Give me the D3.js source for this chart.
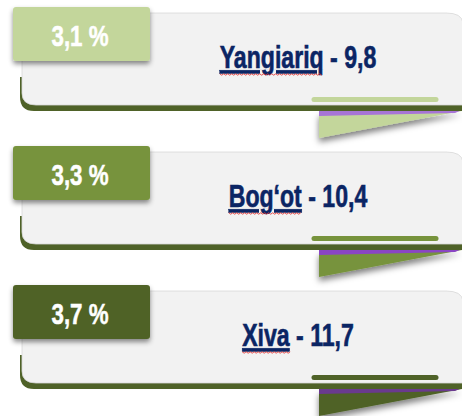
<!DOCTYPE html>
<html>
<head>
<meta charset="utf-8">
<script src="https://cdn.jsdelivr.net/npm/d3@7"></script>
<style>
  body { margin: 0; background: #fff; }
  text { font-family: "Liberation Sans", Arial, sans-serif; font-weight: bold; }
</style>
</head>
<body>
<svg width="462" height="416"></svg>
<script>
// data
var percents = [3.1, 3.3, 3.7];
var places = ["Yangiariq", "Bog‘ot", "Xiva"];
var values = [9.8, 10.4, 11.7];
var tagColors = ["#c3d69b", "#77933c", "#4f6228"];
var foldColors = ["#a774d6", "#8a45c4", "#6a3a8e"];

var svg = d3.select("svg"),
    width = +svg.attr("width"),
    height = +svg.attr("height");

var fmt = function (v) { return d3.format(".1f")(v).replace(".", ","); };

// vertical slot for each panel
var y = d3.scaleBand()
    .domain(d3.range(places.length))
    .range([7, 7 + 139 * 3])
    .paddingInner(0);

// shadows
var defs = svg.append("defs");
var sh = defs.append("filter").attr("id", "shadow")
    .attr("x", "-10%").attr("y", "-10%").attr("width", "130%").attr("height", "160%");
sh.append("feDropShadow").attr("dx", 0).attr("dy", 3).attr("stdDeviation", 2.5)
    .attr("flood-color", "#000").attr("flood-opacity", 0.45);
var sh2 = defs.append("filter").attr("id", "triShadow")
    .attr("x", "-10%").attr("y", "-20%").attr("width", "130%").attr("height", "180%");
sh2.append("feDropShadow").attr("dx", 0).attr("dy", 4).attr("stdDeviation", 3)
    .attr("flood-color", "#000").attr("flood-opacity", 0.5);

var panel = svg.selectAll(".panel")
    .data(places)
    .enter()
    .append("g")
    .attr("class", "panel")
    .attr("transform", function (d, i) { return "translate(0," + y(i) + ")"; });

//fold under the card
panel.append("path")
    .attr("d", "M319,106 L462,104 L319,131 Z")
    .attr("fill", function (d, i) { return tagColors[i]; })
    .attr("filter", "url(#triShadow)");
panel.append("path")
    .attr("d", "M319,103 L462,103 L455,106 L319,109 Z")
    .attr("fill", function (d, i) { return foldColors[i]; });

//card underside
panel.append("path")
    .attr("d", "M20,70 L20,90 Q20,104 34,104 L470,104 L470,70 Z")
    .attr("fill", "#4f6228");

//card body
panel.append("path")
    .attr("d", "M22,6 L446,6 Q462,6 463,16 L463,98 L36,98 Q22,98 22,86 Z")
    .attr("fill", "#f2f2f2")
    .attr("stroke", "#d8d8d8")
    .attr("stroke-width", 0.8);

//small bar
panel.append("line")
    .attr("x1", 314).attr("x2", 436)
    .attr("y1", 92.5).attr("y2", 92.5)
    .attr("stroke", function (d, i) { return tagColors[i]; })
    .attr("stroke-width", 5)
    .attr("stroke-linecap", "round");

//tag
panel.append("rect")
    .attr("x", 13).attr("y", 0)
    .attr("width", 137).attr("height", 54)
    .attr("rx", 3)
    .attr("fill", function (d, i) { return tagColors[i]; })
    .attr("filter", "url(#shadow)");

panel.append("text")
    .attr("transform", "translate(80,39) scale(0.77,1.02)")
    .attr("text-anchor", "middle")
    .attr("font-size", 29)
    .attr("fill", "#fff")
    .attr("stroke", "#fff")
    .attr("stroke-width", 0.5)
    .text(function (d, i) { return fmt(percents[i]) + " %"; });

//name - value
var sx = 0.77;
var label = panel.append("text")
    .attr("transform", "translate(298,61) scale(" + sx + ",1.03)")
    .attr("text-anchor", "middle")
    .attr("font-size", 30)
    .attr("fill", "#0b2564")
    .attr("stroke", "#0b2564")
    .attr("stroke-width", 0.6);
label.append("tspan")
    .attr("class", "name")
    .style("text-decoration", "underline")
    .text(function (d) { return d; });
label.append("tspan")
    .text(function (d, i) { return " - " + fmt(values[i]); });

//spelling squiggle under the name
panel.each(function (d) {
    var g = d3.select(this);
    var bb = g.select("tspan.name").node().getBBox();
    var x0 = 298 + bb.x * sx, x1 = 298 + (bb.x + bb.width) * sx;
    var pts = [];
    for (var x = x0, k = 0; x <= x1; x += 2, k++) {
        pts.push([x, 67 + (k % 2 ? 1.2 : -0.2)]);
    }
    g.append("path")
        .attr("d", d3.line()(pts))
        .attr("fill", "none")
        .attr("stroke", "#e23b3b")
        .attr("stroke-width", 0.9);
});
</script>
</body>
</html>
